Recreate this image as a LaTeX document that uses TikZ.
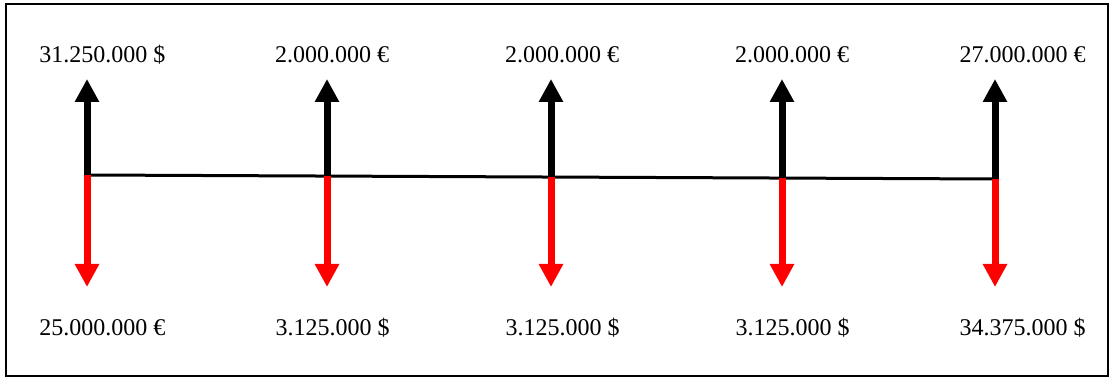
\documentclass[tikz,border=0pt]{standalone}
\usepackage{fontspec}
\setmainfont{Liberation Serif}
\usepackage{tikz}
\usetikzlibrary{arrows.meta}

\begin{document}
\begin{tikzpicture}[
        x=0.5pt, y=-0.5pt,
        every node/.style={font=\fontsize{12pt}{14pt}\selectfont, inner sep=0pt, anchor=base},
        inflow/.style={-{Triangle[width=11.5pt, length=11.5pt]}, line width=3.5pt, black},
        outflow/.style={-{Triangle[width=11.5pt, length=11.5pt]}, line width=3.5pt, red},
        timeline/.style={line width=1.5pt, black}
    ]
        \useasboundingbox (0,0) rectangle (1114,378);
        \draw[line width=1pt] (6,4) rectangle (1108,376);

        % points on the time line
        \coordinate (p1) at (87,175);
        \coordinate (p2) at (327,176);
        \coordinate (p3) at (551,177);
        \coordinate (p4) at (782,178);
        \coordinate (p5) at (995,179);

        % arrow tips
        \coordinate (t1) at (87,79);
        \coordinate (t2) at (327,79);
        \coordinate (t3) at (551,79);
        \coordinate (t4) at (782,79);
        \coordinate (t5) at (995,79);
        \coordinate (b1) at (87,287);
        \coordinate (b2) at (327,287);
        \coordinate (b3) at (551,287);
        \coordinate (b4) at (782,287);
        \coordinate (b5) at (995,287);

        \draw[timeline] (p1) -- (p5);

        \draw[inflow] (p1) -- (t1);
        \draw[inflow] (p2) -- (t2);
        \draw[inflow] (p3) -- (t3);
        \draw[inflow] (p4) -- (t4);
        \draw[inflow] (p5) -- (t5);

        \draw[outflow] (p1) -- (b1);
        \draw[outflow] (p2) -- (b2);
        \draw[outflow] (p3) -- (b3);
        \draw[outflow] (p4) -- (b4);
        \draw[outflow] (p5) -- (b5);

        % amounts
        \node (in1) at (102.5,63) {31.250.000 \$};
        \node (in2) at (332,63) {2.000.000 €};
        \node (in3) at (562,63) {2.000.000 €};
        \node (in4) at (792,63) {2.000.000 €};
        \node (in5) at (1022.5,63) {27.000.000 €};

        \node (out1) at (102.5,336) {25.000.000 €};
        \node (out2) at (332.5,336) {3.125.000 \$};
        \node (out3) at (562.5,336) {3.125.000 \$};
        \node (out4) at (792.5,336) {3.125.000 \$};
        \node (out5) at (1022.5,336) {34.375.000 \$};
    \end{tikzpicture}
\end{document}
